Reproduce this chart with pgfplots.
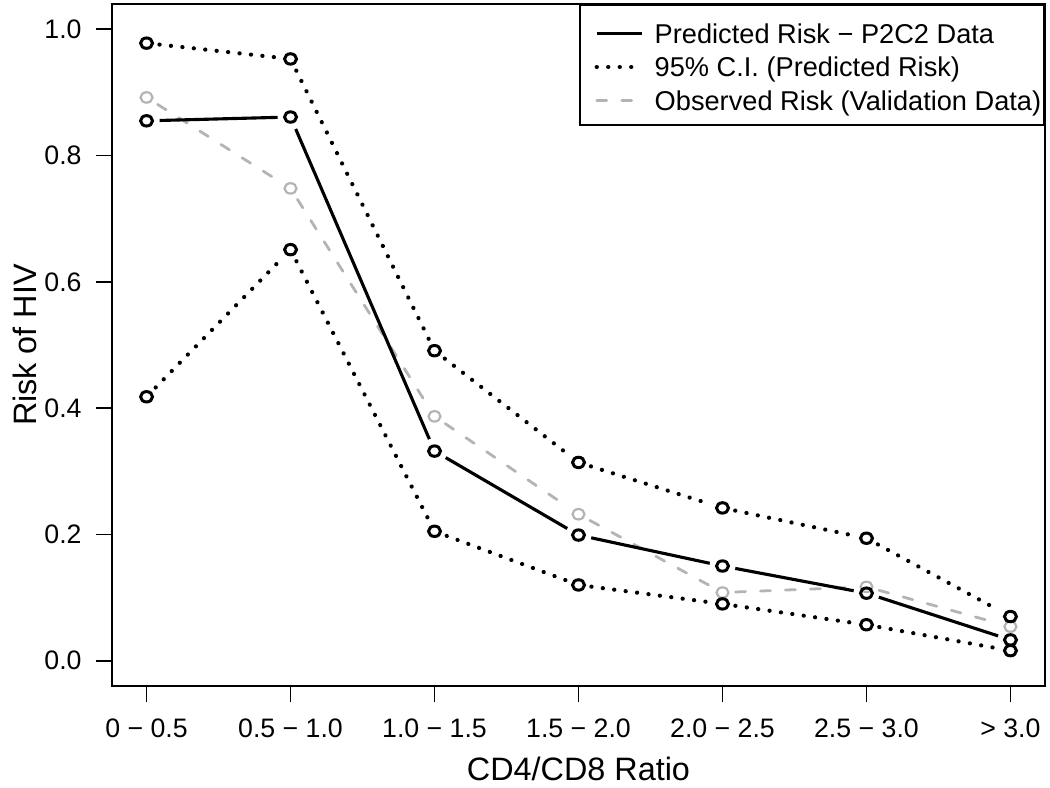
\documentclass[border=0pt]{standalone}
\usepackage{fontspec}
\setmainfont{Liberation Sans}
\usepackage{pgfplots}
\pgfplotsset{compat=1.18}
\usepackage{pgfplotstable}

% risk of HIV by CD4/CD8 ratio class (1 = 0-0.5, ..., 7 = >3.0)
\pgfplotstableread{
x  pred   lo     up     obs
1  0.855  0.418  0.978  0.892
2  0.861  0.651  0.953  0.748
3  0.332  0.205  0.491  0.387
4  0.199  0.120  0.314  0.232
5  0.150  0.090  0.242  0.108
6  0.107  0.057  0.194  0.117
7  0.033  0.016  0.070  0.054
}\risk

\definecolor{obsgrey}{RGB}{180,180,180}
\tikzset{
  predline/.style={black, line width=1.56bp},
  ciline/.style={black, line width=2.1bp, line cap=round, dash pattern=on 0.05bp off 5.7bp},
  obsline/.style={obsgrey, line width=1.4bp, line cap=round, dash pattern=on 5bp off 7.5bp},
}

% one segment of an R type="b" line: gap round each point
\newcommand\seg[4]{%
  \addplot[#2, forget plot, shorten <=6.5bp, shorten >=6.5bp,
    restrict x to domain=#3:#4] table[x=x, y=#1] {\risk};}
\newcommand\segs[2]{%
  \seg{#1}{#2}{0.5}{2.5}\seg{#1}{#2}{1.5}{3.5}\seg{#1}{#2}{2.5}{4.5}%
  \seg{#1}{#2}{3.5}{5.5}\seg{#1}{#2}{4.5}{6.5}\seg{#1}{#2}{5.5}{7.5}}

\begin{document}
\begin{tikzpicture}
\begin{axis}[
  at={(0,0)}, anchor=south west,
  scale only axis, width=466.5bp, height=341bp,
  xmin=0.76, xmax=7.24, ymin=-0.04, ymax=1.04,
  axis line style={line width=0.8bp},
  xtick={1,...,7},
  xticklabels={0 − 0.5, 0.5 − 1.0, 1.0 − 1.5, 1.5 − 2.0, 2.0 − 2.5, 2.5 − 3.0, > 3.0},
  ytick={0,0.2,0.4,0.6,0.8,1},
  yticklabels={0.0,0.2,0.4,0.6,0.8,1.0},
  tick align=outside, tick pos=left, major tick length=8bp,
  every tick/.style={black, line width=0.8bp},
  xticklabel style={font=\fontsize{13.4}{15}\selectfont, anchor=base, inner sep=0pt, yshift=-17.7bp},
  yticklabel style={font=\fontsize{13.4}{15}\selectfont, anchor=east, inner sep=0pt, xshift=-7bp},
  xlabel={CD4/CD8 Ratio},
  ylabel={Risk of HIV},
  xlabel style={font=\fontsize{16.25}{19}\selectfont, at={([yshift=-47.3bp]axis description cs:0.5,0)}, anchor=base, inner sep=0pt},
  ylabel style={font=\fontsize{16.25}{19}\selectfont, at={([xshift=-37.7bp]axis description cs:0,0.5)}, anchor=base, inner sep=0pt, rotate=0},
  legend style={at={(1,1)}, anchor=north east, draw=black, line width=0.8bp,
    inner xsep=1.5bp, inner ysep=5bp, row sep=0pt, column sep=0pt,
    font=\fontsize{13.65}{16}\selectfont,
    nodes={inner sep=0pt, text height=14.2bp, text depth=2.55bp}},
  legend cell align=left,
  legend image code/.code={\path[draw=none] (0bp,-1bp) -- (36bp,-1bp);
    \draw[#1] (7bp,-1bp) -- (29.5bp,-1bp);},
]
\addlegendimage{predline}
\addlegendentry{Predicted Risk − P2C2 Data}
\addlegendimage{ciline}
\addlegendentry{95\% C.I. (Predicted Risk)}
\addlegendimage{obsline}
\addlegendentry{Observed Risk (Validation Data)}

\segs{obs}{obsline}
\segs{lo}{ciline}
\segs{up}{ciline}
\segs{pred}{predline}

\addplot[only marks, forget plot, mark=o, mark size=2.6bp,
  mark options={obsgrey, line width=1.1bp, xscale=1.15}] table[x=x, y=obs] {\risk};
\addplot[only marks, forget plot, mark=o, mark size=2.6bp,
  mark options={black, line width=1.5bp, xscale=1.15}] table[x=x, y=lo] {\risk};
\addplot[only marks, forget plot, mark=o, mark size=2.6bp,
  mark options={black, line width=1.5bp, xscale=1.15}] table[x=x, y=up] {\risk};
\addplot[only marks, forget plot, mark=o, mark size=2.6bp,
  mark options={black, line width=1.5bp, xscale=1.15}] table[x=x, y=pred] {\risk};
\end{axis}
\pgfresetboundingbox
\useasboundingbox (-56bp,-51bp) rectangle (469bp,343bp);
\end{tikzpicture}
\end{document}
